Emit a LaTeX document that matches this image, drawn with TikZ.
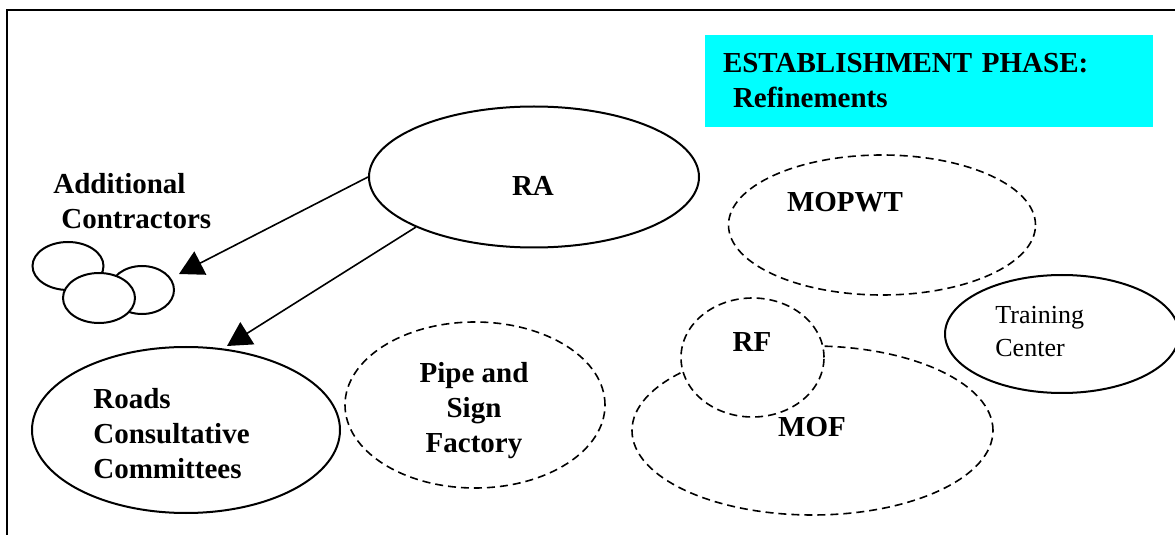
\documentclass[tikz,border=0pt]{standalone}
\usepackage{fontspec}
\setmainfont{Liberation Serif}
\usepackage{xcolor}
\usepackage{tikz}
\usetikzlibrary{arrows.meta,positioning,shapes.geometric}

\definecolor{phasecyan}{RGB}{0,255,255}

\begin{document}
\begin{tikzpicture}[
    x=0.5pt, y=-0.5pt,
    >={Triangle[length=12pt, width=13pt]},
    org/.style={draw, ellipse, line width=1pt, inner sep=0pt, fill=white},
    dorg/.style={org, line width=0.8pt, dash pattern=on 4pt off 2.5pt},
    lbl/.style={inner sep=0pt, font=\fontsize{14.5}{17.5}\selectfont\bfseries},
    plbl/.style={inner sep=0pt, font=\fontsize{13}{16.5}\selectfont},
    phase/.style={fill=phasecyan, minimum width=224pt, minimum height=46pt,
                  text width=206pt, inner xsep=9pt, inner ysep=0pt, align=left,
                  font=\fontsize{14.5}{17.5}\selectfont\bfseries}
]
    \useasboundingbox (0,0) rectangle (1175,535);
    \draw[line width=1pt] (7,535) -- (7,10) -- (1175,10);

    \node[phase] (phase) at (929,81)
        {ESTABLISHMENT PHASE:\\\hspace*{5pt}Refinements};

    % Organisations
    \node[org, minimum width=165pt, minimum height=70.5pt] (RA) at (534,177) {};
    \node[org, minimum width=35.5pt, minimum height=24pt] (C1) at (68,266) {};
    \node[org, minimum width=32pt, minimum height=24pt] (C2) at (142,290) {};
    \node[org, minimum width=36pt, minimum height=25pt] (C3) at (99,298) {};
    \node[org, minimum width=154pt, minimum height=83pt] (RCC) at (186,430) {};
    \node[dorg, minimum width=130pt, minimum height=83pt] (PSF) at (475,405) {};
    \node[dorg, minimum width=153.5pt, minimum height=70pt] (MOPWT) at (882,225) {};
    \node[org, minimum width=117pt, minimum height=59pt] (TC) at (1062,334) {};
    \node[dorg, minimum width=180.5pt, minimum height=84.5pt] (MOF) at (812.5,430.5) {};
    \node[dorg, minimum width=71.5pt, minimum height=59.5pt] (RF) at (752.5,357.5) {};

    % Labels
    \node[lbl] (raText) at (533,186) {RA};
    \node[lbl, align=left, anchor=west] (acText) at (53,201)
        {Additional\\\hspace*{4pt}Contractors};
    \node[lbl, align=left, anchor=west] (rccText) at (93,433.5)
        {Roads\\Consultative\\Committees};
    \node[lbl, align=center] (psfText) at (474,411) {Pipe and\\Sign\\Factory};
    \node[lbl] (mopwtText) at (845,202) {MOPWT};
    \node[lbl] (rfText) at (752,342) {RF};
    \node[lbl] (mofText) at (812,427) {MOF};
    \node[plbl, align=left, anchor=west] (tcText) at (995,331.5) {Training\\Center};

    % Links from RA
    \coordinate (acTip) at (179,274);
    \coordinate (rccTip) at (227,346);
    \draw[->, line width=0.8pt] (RA.west) -- (acTip);
    \draw[->, line width=0.8pt] (RA.203) -- (rccTip);
\end{tikzpicture}
\end{document}
